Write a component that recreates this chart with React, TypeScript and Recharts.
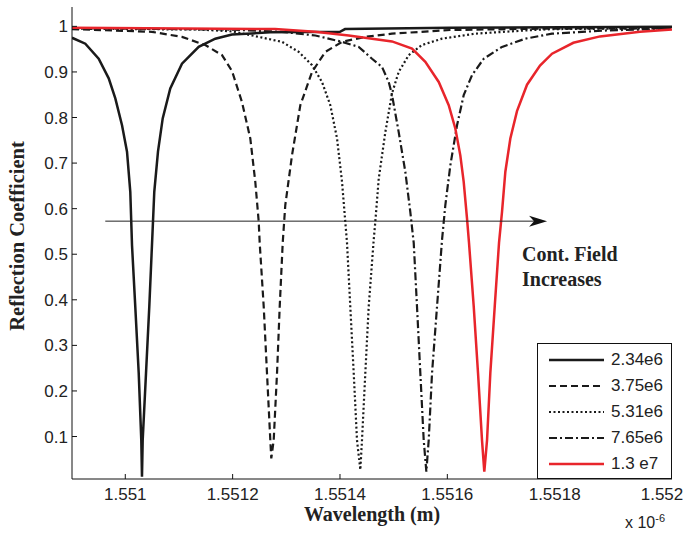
import React from 'react';
import {
  LineChart,
  Line,
  XAxis,
  YAxis,
  Legend,
  ReferenceLine,
} from 'recharts';

// wavelength (x 1e-6 m) and reflection for each control field value
const wl234 = [1.5509007, 1.5509255, 1.5509504, 1.5509691, 1.5509814, 1.5509939, 1.5510032, 1.5510093, 1.5510125, 1.5510186, 1.551025, 1.5510298, 1.5510311, 1.5510324, 1.5510386, 1.5510447, 1.5510497, 1.551054, 1.5510609, 1.5510697, 1.5510838, 1.5511056, 1.5511368, 1.5511677, 1.5511988, 1.55127, 1.5514, 1.5514094, 1.551605, 1.5520186];
const r234 = [0.975, 0.962, 0.929, 0.886, 0.842, 0.783, 0.725, 0.637, 0.52, 0.385, 0.239, 0.092, 0.012, 0.092, 0.239, 0.385, 0.52, 0.637, 0.725, 0.798, 0.864, 0.918, 0.955, 0.973, 0.982, 0.987, 0.988, 0.994, 0.997, 0.999];

const wl375 = [1.5509007, 1.5510497, 1.5511056, 1.5511491, 1.5511802, 1.5511988, 1.5512174, 1.5512329, 1.5512422, 1.5512486, 1.5512504, 1.5512579, 1.551264, 1.5512702, 1.551272, 1.5512765, 1.5512827, 1.5512877, 1.5512933, 1.5512981, 1.5513106, 1.5513261, 1.5513479, 1.5513727, 1.5514038, 1.5514472, 1.5514969, 1.551605, 1.5517727, 1.5520186];
const r375 = [0.994, 0.988, 0.977, 0.959, 0.937, 0.902, 0.834, 0.754, 0.659, 0.571, 0.525, 0.385, 0.239, 0.092, 0.052, 0.092, 0.239, 0.385, 0.525, 0.608, 0.717, 0.827, 0.9, 0.944, 0.966, 0.977, 0.984, 0.992, 0.995, 0.996];

const wl531 = [1.5509007, 1.5511392, 1.5511988, 1.5512361, 1.551292, 1.5513231, 1.5513479, 1.5513665, 1.551382, 1.5513945, 1.5514038, 1.5514099, 1.5514131, 1.5514192, 1.5514256, 1.5514317, 1.5514379, 1.551441, 1.5514472, 1.5514535, 1.5514628, 1.5514658, 1.5514722, 1.5514845, 1.5514969, 1.5515094, 1.5515281, 1.5515528, 1.5515901, 1.5516522, 1.5517453, 1.5517951, 1.5520186];
const r531 = [0.995, 0.993, 0.989, 0.98, 0.966, 0.944, 0.915, 0.878, 0.827, 0.754, 0.659, 0.571, 0.525, 0.385, 0.239, 0.092, 0.027, 0.092, 0.239, 0.385, 0.531, 0.571, 0.666, 0.768, 0.853, 0.9, 0.937, 0.959, 0.973, 0.984, 0.991, 0.994, 0.996];

const wl765 = [1.5509007, 1.5511988, 1.551292, 1.551354, 1.5514038, 1.5514349, 1.5514597, 1.5514783, 1.5514908, 1.5514969, 1.5515094, 1.5515217, 1.551531, 1.5515374, 1.5515435, 1.5515497, 1.551556, 1.5515609, 1.5515653, 1.5515715, 1.5515808, 1.5515901, 1.5515963, 1.5516056, 1.5516181, 1.5516305, 1.551646, 1.5516678, 1.5517019, 1.5517453, 1.5517951, 1.551897, 1.5520186];
const r765 = [0.996, 0.993, 0.988, 0.98, 0.966, 0.955, 0.929, 0.911, 0.878, 0.85, 0.768, 0.681, 0.593, 0.525, 0.385, 0.239, 0.092, 0.023, 0.092, 0.239, 0.385, 0.531, 0.608, 0.695, 0.783, 0.849, 0.893, 0.929, 0.955, 0.973, 0.984, 0.991, 0.995];

const wl13 = [1.5509007, 1.5512789, 1.5513535, 1.5514163, 1.5514597, 1.5514969, 1.5515342, 1.551559, 1.551584, 1.5516026, 1.5516149, 1.5516242, 1.5516305, 1.5516367, 1.5516404, 1.5516492, 1.5516572, 1.5516646, 1.5516689, 1.551674, 1.5516801, 1.5516883, 1.5516963, 1.5517019, 1.5517081, 1.5517174, 1.5517298, 1.5517485, 1.5517727, 1.5517951, 1.5518348, 1.5518845, 1.551959, 1.5520186];
const r13 = [0.997, 0.994, 0.988, 0.98, 0.973, 0.967, 0.951, 0.922, 0.878, 0.827, 0.776, 0.717, 0.659, 0.578, 0.525, 0.385, 0.239, 0.092, 0.023, 0.092, 0.239, 0.385, 0.525, 0.593, 0.681, 0.754, 0.814, 0.872, 0.914, 0.94, 0.964, 0.978, 0.988, 0.993];

const xTicks = [1.551, 1.5512, 1.5514, 1.5516, 1.5518, 1.552];
const yTicks = [0.1, 0.2, 0.3, 0.4, 0.5, 0.6, 0.7, 0.8, 0.9, 1];

const toPoints = (xs: number[], ys: number[]) => xs.map((x, i) => ({ x, r: ys[i] }));

const series = [
  { name: '2.34e6', data: toPoints(wl234, r234), color: '#1a1a1a', dash: undefined, width: 2.5 },
  { name: '3.75e6', data: toPoints(wl375, r375), color: '#1a1a1a', dash: '7 4', width: 2.2 },
  { name: '5.31e6', data: toPoints(wl531, r531), color: '#1a1a1a', dash: '2 2.5', width: 2.2 },
  { name: '7.65e6', data: toPoints(wl765, r765), color: '#1a1a1a', dash: '8 3 2 3', width: 2.2 },
  { name: '1.3 e7', data: toPoints(wl13, r13), color: '#e8252b', dash: undefined, width: 2.5 },
];

const tickFont = { fontFamily: '"Liberation Sans", Arial, sans-serif', fontSize: 17, fill: '#222' };
const boldSerif = '"Liberation Serif", "Times New Roman", serif';

const LegendBox = () => (
  <div
    style={{
      width: 135,
      height: 136,
      boxSizing: 'border-box',
      border: '1.5px solid #111',
      background: '#fff',
      paddingTop: 3,
    }}
  >
    {series.map((s) => (
      <div key={s.name} style={{ height: 26, display: 'flex', alignItems: 'center' }}>
        <svg width={70} height={26}>
          <line x1={11} y1={13} x2={66} y2={13} stroke={s.color} strokeWidth={s.width} strokeDasharray={s.dash} />
        </svg>
        <span style={{ ...tickFont, fontSize: 17, color: '#222', marginLeft: 3 }}>{s.name}</span>
      </div>
    ))}
  </div>
);

const Arrow = (props: any) => {
  const { x1, y1, x2, y2 } = props;
  return (
    <g>
      <line x1={x1} y1={y1} x2={x2 - 10} y2={y2} stroke="#222" strokeWidth={1} />
      <polygon points={`${x2},${y2} ${x2 - 18},${y2 - 5.5} ${x2 - 13},${y2} ${x2 - 18},${y2 + 5.5}`} fill="#111" />
    </g>
  );
};

export default function App() {
  return (
    <div style={{ position: 'absolute', left: 0, top: 0, width: 685, height: 535, background: '#fff' }}>
      <LineChart width={685} height={535} margin={{ top: 7, right: 13, bottom: 0, left: 0 }}>
        <XAxis
          xAxisId="b"
          dataKey="x"
          type="number"
          domain={[1.5509007, 1.5520186]}
          ticks={xTicks}
          allowDataOverflow
          height={56}
          tickSize={-5}
          tickMargin={14}
          tick={tickFont}
          tickFormatter={(v: number) => String(+v.toFixed(4))}
          stroke="#111"
          label={{
            content: () => (
              <text x={372} y={521} textAnchor="middle" fontFamily={boldSerif} fontWeight="bold" fontSize={20} fill="#222">
                Wavelength (m)
              </text>
            ),
          }}
        />
        <XAxis
          xAxisId="t"
          orientation="top"
          dataKey="x"
          type="number"
          domain={[1.5509007, 1.5520186]}
          ticks={xTicks}
          allowDataOverflow
          height={0}
          tickSize={-5}
          tick={false}
          stroke="#111"
        />
        <YAxis
          yAxisId="l"
          type="number"
          domain={[0.0068, 1.0425]}
          ticks={yTicks}
          allowDataOverflow
          width={72}
          tickSize={-5}
          tickMargin={9}
          tick={tickFont}
          tickFormatter={(v: number) => String(+v.toFixed(1))}
          stroke="#111"
          label={{
            content: () => (
              <text x={24} y={236} transform="rotate(-90 24 236)" textAnchor="middle" fontFamily={boldSerif} fontWeight="bold" fontSize={20.5} fill="#222">
                Reflection Coefficient
              </text>
            ),
          }}
        />
        <YAxis
          yAxisId="r"
          orientation="right"
          type="number"
          domain={[0.0068, 1.0425]}
          ticks={yTicks}
          allowDataOverflow
          width={0}
          tickSize={-5}
          tick={false}
          stroke="#111"
        />
        {series.map((s) => (
          <Line
            key={s.name}
            xAxisId="b"
            yAxisId="l"
            data={s.data}
            dataKey="r"
            name={s.name}
            type="linear"
            stroke={s.color}
            strokeWidth={s.width}
            strokeDasharray={s.dash}
            dot={false}
            activeDot={false}
            isAnimationActive={false}
          />
        ))}
        <ReferenceLine
          xAxisId="b"
          yAxisId="l"
          segment={[
            { x: 1.5509627, y: 0.5726 },
            { x: 1.5517858, y: 0.5726 },
          ]}
          shape={Arrow}
        />
        <Legend
          layout="vertical"
          align="center"
          verticalAlign="middle"
          content={() => <LegendBox />}
          wrapperStyle={{ left: 537, top: 343, width: 135, height: 136 }}
        />
      </LineChart>
      <div style={{ position: 'absolute', left: 522, top: 242, fontFamily: boldSerif, fontWeight: 'bold', fontSize: 20, color: '#222', lineHeight: '25px' }}>
        Cont. Field
        <br />
        Increases
      </div>
      <div style={{ position: 'absolute', left: 625, top: 512, fontFamily: tickFont.fontFamily, fontSize: 16, color: '#222' }}>
        x 10<sup style={{ fontSize: 11 }}>-6</sup>
      </div>
    </div>
  );
}
